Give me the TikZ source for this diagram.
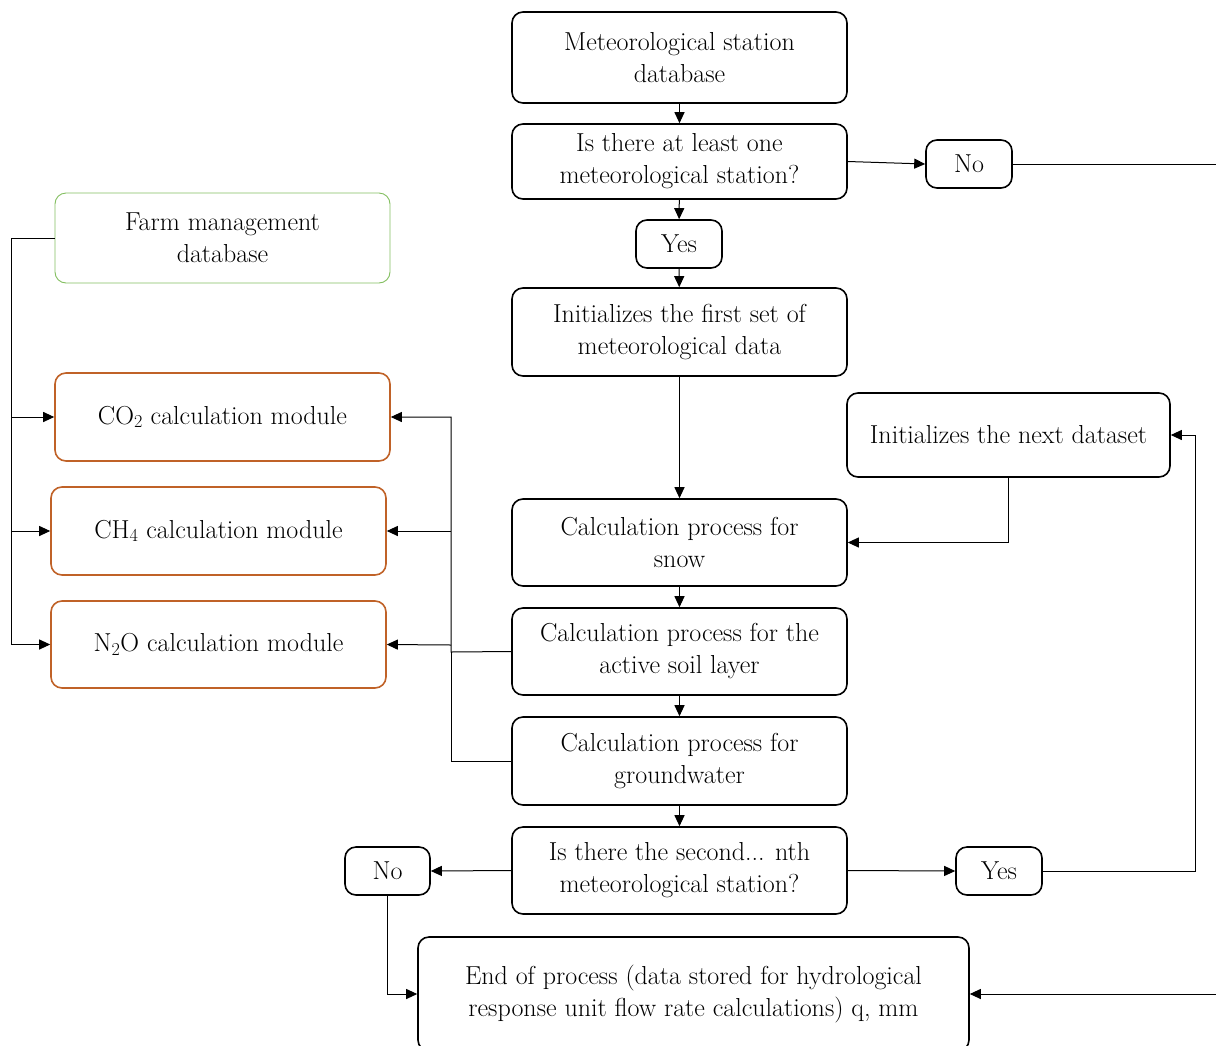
\documentclass[tikz,border=0pt]{standalone}
\usetikzlibrary{arrows.meta}
\definecolor{farmgreen}{RGB}{130,190,95}
\definecolor{modbrown}{RGB}{192,98,40}
\begin{document}
\begin{tikzpicture}[x=1pt,y=-1pt,
  font=\fontsize{26}{32}\selectfont,
  box/.style={draw=black,line width=1.6pt,rounded corners=11pt,align=center,inner sep=2pt},
  farmbox/.style={box,draw=farmgreen,line width=0.9pt},
  modbox/.style={box,draw=modbrown,line width=1.6pt},
  conn/.style={line width=1pt},
  arr/.style={conn,-{Triangle[length=11pt,width=10pt]}}]
\useasboundingbox (0,0) rectangle (1216,1045);
% main column
\node[box,minimum width=335pt,minimum height=91pt] (met) at (679.5,57.5) {Meteorological station\\database};
\node[box,minimum width=335pt,minimum height=75pt] (q1) at (679.5,161.5) {Is there at least one\\meteorological station?};
\node[box,minimum width=86pt,minimum height=48pt] (no1) at (969,164) {No};
\node[box,minimum width=86pt,minimum height=48pt] (yes1) at (679,244) {Yes};
\node[box,minimum width=335pt,minimum height=88pt] (init) at (679.5,332) {Initializes the first set of\\meteorological data};
\node[box,minimum width=323pt,minimum height=84pt] (next) at (1008.5,435) {Initializes the next dataset};
\node[box,minimum width=335pt,minimum height=87pt] (snow) at (679.5,542.5) {Calculation process for\\snow};
\node[box,minimum width=335pt,minimum height=87pt] (active) at (679.5,651.5) {Calculation process for the\\active soil layer};
\node[box,minimum width=335pt,minimum height=88pt] (ground) at (679.5,761) {Calculation process for\\groundwater};
\node[box,minimum width=335pt,minimum height=87pt] (q2) at (679.5,870.5) {Is there the second... nth\\meteorological station?};
\node[box,minimum width=85pt,minimum height=48pt] (no2) at (387.5,871) {No};
\node[box,minimum width=86pt,minimum height=48pt] (yes2) at (999,871) {Yes};
\node[box,minimum width=551pt,minimum height=114pt] (end) at (693.5,994) {End of process (data stored for hydrological\\response unit flow rate calculations) q, mm};
% left column
\node[farmbox,minimum width=335pt,minimum height=90pt] (farm) at (222.5,238) {Farm management\\database};
\node[modbox,minimum width=335pt,minimum height=88pt] (co2) at (222.5,417) {CO\textsubscript{2} calculation module};
\node[modbox,minimum width=335pt,minimum height=88pt] (ch4) at (218.5,531) {CH\textsubscript{4} calculation module};
\node[modbox,minimum width=335pt,minimum height=87pt] (n2o) at (218.5,644.5) {N\textsubscript{2}O calculation module};
% coordinates
\coordinate (rtop) at (1222,164);
\coordinate (rbot) at (1222,994);
\coordinate (bus) at (451,652);
% main flow
\draw[arr] (met) -- (q1);
\draw[arr] (q1.east) -- (no1.west);
\draw[conn] (no1.east) -- (rtop) -- (rbot);
\draw[arr] (rbot) -- (end.east);
\draw[arr] (q1) -- (yes1);
\draw[arr] (yes1) -- (init);
\draw[arr] (init) -- (snow);
\draw[arr] (next.south) |- (snow.east);
\draw[arr] (snow) -- (active);
\draw[arr] (active) -- (ground);
\draw[arr] (ground) -- (q2);
\draw[arr] (q2.west) -- (no2.east);
\draw[arr] (q2.east) -- (yes2.west);
\draw[arr] (yes2.east) -- (1195,871) |- (next.east);
\draw[arr] (no2.south) |- (end.west);
% farm bus
\draw[arr] (farm.west) -- (11,238) |- (n2o.west);
\draw[arr] (11,417) -- (co2.west);
\draw[arr] (11,531) -- (ch4.west);
% module bus
\draw[arr] (active.west) -- (bus) |- (co2.east);
\draw[arr] (451,531) -- (ch4.east);
\draw[arr] (451,645) -- (n2o.east);
\draw[conn] (ground.west) -| (bus);
\end{tikzpicture}
\end{document}
